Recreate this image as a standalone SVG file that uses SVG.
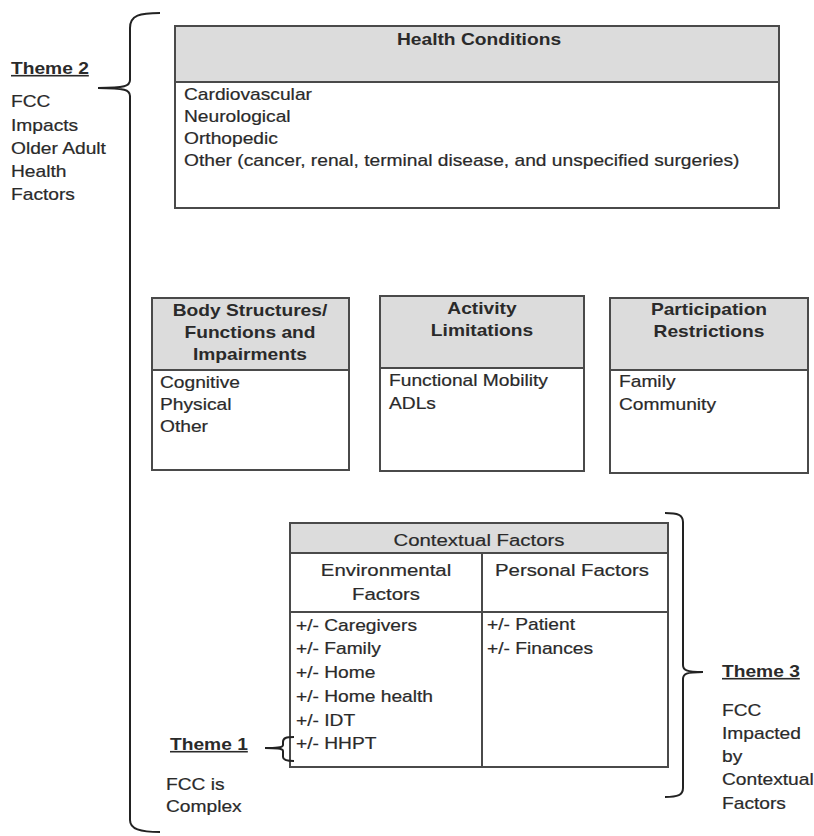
<svg xmlns="http://www.w3.org/2000/svg" width="814" height="836" viewBox="0 0 814 836">
<style>
text{font-family:"Liberation Sans",Arial,sans-serif;font-size:16px;fill:#2a2a2a;stroke:#2a2a2a;stroke-width:0.2}
.b{font-weight:bold;stroke-width:0}
.c{text-anchor:middle}
.u{text-decoration:underline}
.m{font-size:17px}
.hdr{fill:#dcdcdc;stroke:#4a4a4a;stroke-width:2}
.box{fill:#fff;stroke:#4a4a4a;stroke-width:2}
.ln{stroke:#4a4a4a;stroke-width:2;fill:none}
.br{stroke:#222;stroke-width:2;fill:none}
</style>
<rect width="814" height="836" fill="#fff"/>
<g id="health-conditions">
<rect class="box" x="175" y="26" width="604" height="182"/>
<rect class="hdr" x="175" y="26" width="604" height="56"/>
<text class="b c" transform="translate(479,45) scale(1.2,1)">Health Conditions</text>
<text transform="translate(184,100) scale(1.2,1)">Cardiovascular</text>
<text transform="translate(184,122) scale(1.2,1)">Neurological</text>
<text transform="translate(184,144) scale(1.2,1)">Orthopedic</text>
<text transform="translate(184,166) scale(1.2,1)">Other (cancer, renal, terminal disease, and unspecified surgeries)</text>
</g>
<g id="body-structures">
<rect class="box" x="152" y="298" width="197" height="172"/>
<rect class="hdr" x="152" y="298" width="197" height="72"/>
<text class="b c" transform="translate(250,316) scale(1.2,1)">Body Structures/</text>
<text class="b c" transform="translate(250,338) scale(1.2,1)">Functions and</text>
<text class="b c" transform="translate(250,360) scale(1.2,1)">Impairments</text>
<text transform="translate(160,388) scale(1.2,1)">Cognitive</text>
<text transform="translate(160,410) scale(1.2,1)">Physical</text>
<text transform="translate(160,432) scale(1.2,1)">Other</text>
</g>
<g id="activity-limitations">
<rect class="box" x="380" y="296" width="204" height="175"/>
<rect class="hdr" x="380" y="296" width="204" height="72"/>
<text class="b c" transform="translate(482,314) scale(1.2,1)">Activity</text>
<text class="b c" transform="translate(482,336) scale(1.2,1)">Limitations</text>
<text transform="translate(389,386) scale(1.2,1)">Functional Mobility</text>
<text transform="translate(389,409) scale(1.2,1)">ADLs</text>
</g>
<g id="participation-restrictions">
<rect class="box" x="610" y="298" width="198" height="175"/>
<rect class="hdr" x="610" y="298" width="198" height="72"/>
<text class="b c" transform="translate(709,315) scale(1.2,1)">Participation</text>
<text class="b c" transform="translate(709,337) scale(1.2,1)">Restrictions</text>
<text transform="translate(619,387) scale(1.2,1)">Family</text>
<text transform="translate(619,410) scale(1.2,1)">Community</text>
</g>
<g id="contextual-factors">
<rect class="box" x="290" y="523" width="378" height="244"/>
<rect class="hdr" x="290" y="523" width="378" height="30"/>
<line class="ln" x1="290" y1="612" x2="668" y2="612"/>
<line class="ln" x1="482" y1="553" x2="482" y2="767"/>
<text class="c m" transform="translate(479,546) scale(1.2,1)">Contextual Factors</text>
<text class="c m" transform="translate(386,576) scale(1.2,1)">Environmental</text>
<text class="c m" transform="translate(386,600) scale(1.2,1)">Factors</text>
<text class="c m" transform="translate(572,576) scale(1.2,1)">Personal Factors</text>
<text transform="translate(296,631) scale(1.2,1)">+/- Caregivers</text>
<text transform="translate(296,654) scale(1.2,1)">+/- Family</text>
<text transform="translate(296,678) scale(1.2,1)">+/- Home</text>
<text transform="translate(296,702) scale(1.2,1)">+/- Home health</text>
<text transform="translate(296,726) scale(1.2,1)">+/- IDT</text>
<text transform="translate(296,749) scale(1.2,1)">+/- HHPT</text>
<text transform="translate(487,630) scale(1.2,1)">+/- Patient</text>
<text transform="translate(487,654) scale(1.2,1)">+/- Finances</text>
</g>
<g id="theme2">
<text class="b u" transform="translate(11,74) scale(1.2,1)">Theme 2</text>
<text transform="translate(11,107) scale(1.2,1)">FCC</text>
<text transform="translate(11,131) scale(1.2,1)">Impacts</text>
<text transform="translate(11,154) scale(1.2,1)">Older Adult</text>
<text transform="translate(11,177) scale(1.2,1)">Health</text>
<text transform="translate(11,200) scale(1.2,1)">Factors</text>
</g>
<g id="theme1">
<text class="b u" transform="translate(170,750) scale(1.2,1)">Theme 1</text>
<text transform="translate(166,790) scale(1.2,1)">FCC is</text>
<text transform="translate(166,812) scale(1.2,1)">Complex</text>
</g>
<g id="theme3">
<text class="b u" transform="translate(722,677) scale(1.2,1)">Theme 3</text>
<text transform="translate(722,716) scale(1.2,1)">FCC</text>
<text transform="translate(722,739) scale(1.2,1)">Impacted</text>
<text transform="translate(722,762) scale(1.2,1)">by</text>
<text transform="translate(722,785) scale(1.2,1)">Contextual</text>
<text transform="translate(722,809) scale(1.2,1)">Factors</text>
</g>
<g id="connectors">
<path class="br" d="M160,13 C140,13 130,15 130,28 L130,80 C130,86 125,88 98,88 C125,88 130,90 130,96 L130,820 C130,829 140,832 160,832"/>
<path class="br" d="M294,737 C286,737 283,738 283,742 L283,745 C283,747 280,748 265,748 C280,748 283,749 283,751 L283,757 C283,760 286,761 294,761"/>
<path class="br" d="M665,513 C678,513 683,515 683,522 L683,665 C683,670 686,672 703,672 C686,672 683,674 683,679 L683,788 C683,795 678,797 665,797"/>
</g>
</svg>
